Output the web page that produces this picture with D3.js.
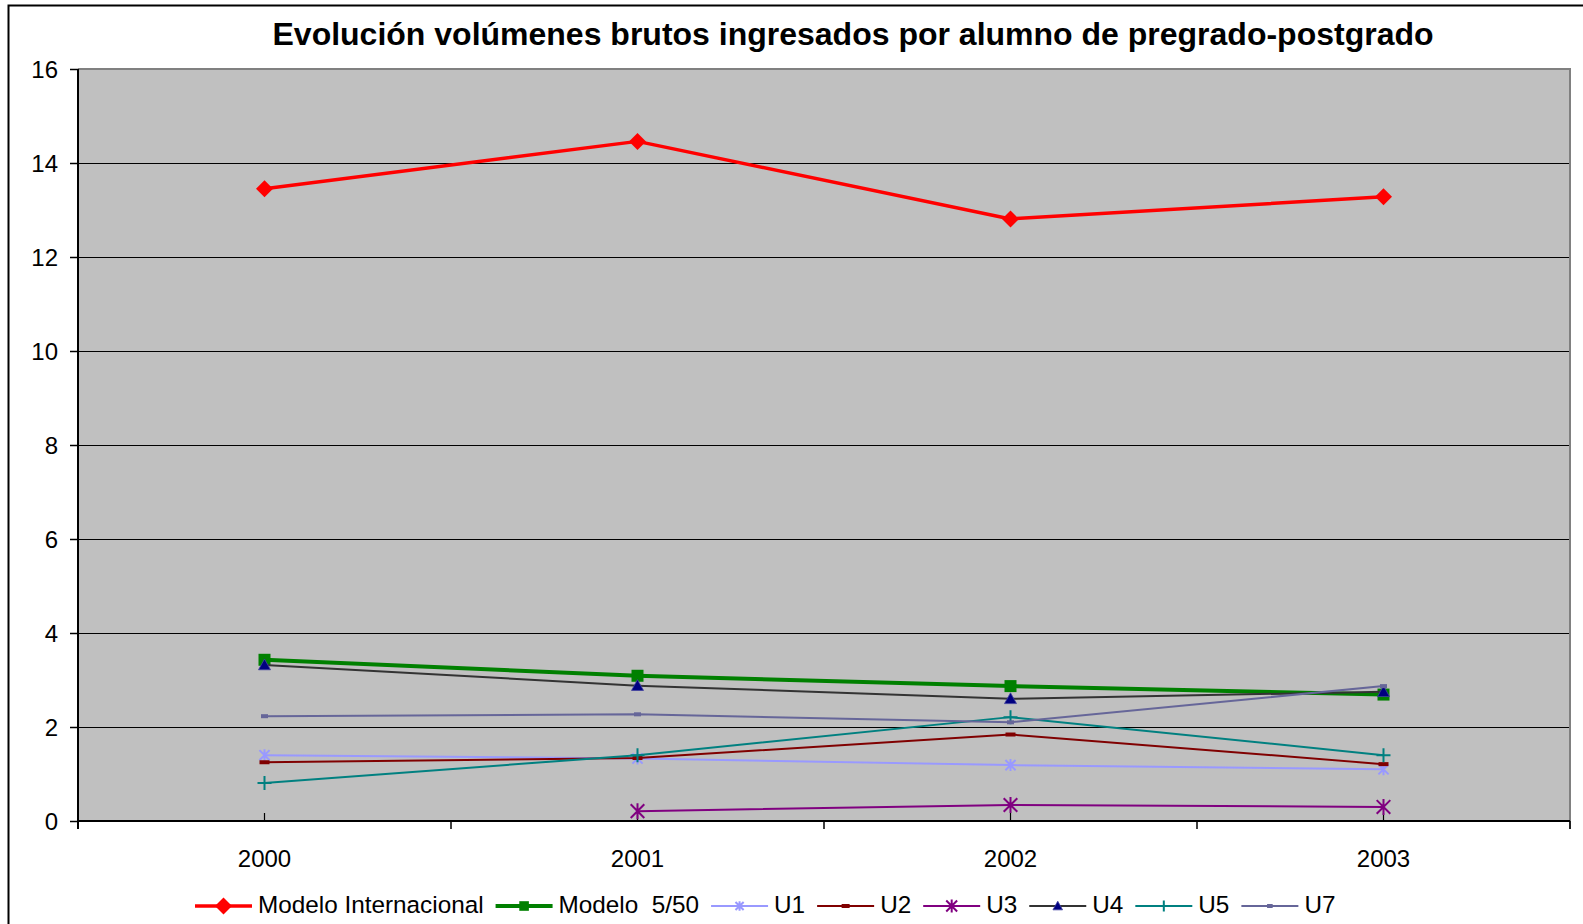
<!DOCTYPE html>
<html>
<head>
<meta charset="utf-8">
<script src="https://cdn.jsdelivr.net/npm/d3@7"></script>
<style>
  html, body { margin: 0; padding: 0; background: #ffffff; }
  svg { display: block; font-family: "Liberation Sans", Arial, sans-serif; }
</style>
</head>
<body>
<svg id="chart" width="1583" height="924"></svg>
<script>
// ---- data ----
const years = ["2000", "2001", "2002", "2003"];
const yTicks = [0, 2, 4, 6, 8, 10, 12, 14, 16];
const modeloInternacional = [13.45, 14.46, 12.81, 13.28];
const modelo550 = [3.43, 3.09, 2.87, 2.69];
const u1 = [1.40, 1.33, 1.19, 1.10];
const u2 = [1.25, 1.34, 1.84, 1.21];
const u3 = [null, 0.21, 0.34, 0.30];
const u4 = [3.32, 2.88, 2.60, 2.75];
const u5 = [0.81, 1.40, 2.21, 1.40];
const u7 = [2.23, 2.27, 2.10, 2.87];
const seriesNames = ["Modelo Internacional", "Modelo  5/50", "U1", "U2", "U3", "U4", "U5", "U7"];
const title = "Evolución volúmenes brutos ingresados por alumno de pregrado-postgrado";

// ---- styles ----
const styles = [
  { color: "#FF0000", width: 3.5, marker: "diamond", mfill: "#FF0000", msize: 8.5 },
  { color: "#008000", width: 4,   marker: "square",  mfill: "#008000", msize: 6 },
  { color: "#9999FF", width: 2,   marker: "star",    mfill: "#9999FF", msize: 6 },
  { color: "#800000", width: 2,   marker: "dash",    mfill: "#800000", msize: 5 },
  { color: "#800080", width: 2,   marker: "star",    mfill: "#800080", msize: 8 },
  { color: "#333333", width: 2,   marker: "triangle",mfill: "#000080", msize: 6 },
  { color: "#008080", width: 2,   marker: "plus",    mfill: "#008080", msize: 7 },
  { color: "#666699", width: 2,   marker: "dash",    mfill: "#666699", msize: 3.5 }
];
const seriesValues = [modeloInternacional, modelo550, u1, u2, u3, u4, u5, u7];
const series = seriesNames.map((n, i) => Object.assign({ name: n, values: seriesValues[i] }, styles[i]));

// ---- layout ----
const svg = d3.select("#chart");
const plot = { left: 78, right: 1570, top: 69, bottom: 821 };

// outer frame
svg.append("path")
  .attr("d", `M8.5,924 L8.5,5.5 L1583,5.5`)
  .attr("fill", "none").attr("stroke", "#000").attr("stroke-width", 2);

const x = d3.scaleBand().domain(years).range([plot.left, plot.right]);
const y = d3.scaleLinear().domain([0, 16]).range([plot.bottom, plot.top]);
const cx = d => x(d) + x.bandwidth() / 2;

// plot background
svg.append("rect")
  .attr("x", plot.left).attr("y", plot.top)
  .attr("width", plot.right - plot.left).attr("height", plot.bottom - plot.top)
  .attr("fill", "#C0C0C0");

// gridlines
svg.append("g").selectAll("line")
  .data(yTicks.filter(t => t > 0 && t < 16))
  .join("line")
  .attr("x1", plot.left).attr("x2", plot.right)
  .attr("y1", d => Math.round(y(d)) + 0.5).attr("y2", d => Math.round(y(d)) + 0.5)
  .attr("stroke", "#000").attr("stroke-width", 1.2);

// plot border top & right (gray)
svg.append("path")
  .attr("d", `M${plot.left},${plot.top} L${plot.right},${plot.top} L${plot.right},${plot.bottom + 8}`)
  .attr("fill", "none").attr("stroke", "#808080").attr("stroke-width", 2);

// y axis
const yAxis = svg.append("g")
  .attr("transform", `translate(${plot.left},0)`)
  .call(d3.axisLeft(y).tickValues(yTicks).tickSize(8).tickPadding(12).tickFormat(d3.format("d")));
yAxis.select(".domain").attr("d", `M0,${plot.top} V${plot.bottom + 8}`).attr("stroke", "#000").attr("stroke-width", 2);
yAxis.selectAll(".tick line").attr("stroke", "#000").attr("stroke-width", 1.5);
yAxis.selectAll(".tick text").attr("font-size", 24).attr("fill", "#000")
  .attr("font-family", "'Liberation Sans', Arial, sans-serif").attr("dy", "0.35em");

// x axis line
svg.append("line")
  .attr("x1", plot.left).attr("x2", plot.right)
  .attr("y1", plot.bottom).attr("y2", plot.bottom)
  .attr("stroke", "#000").attr("stroke-width", 2);
// major ticks between categories
const boundaries = years.map(d => x(d)).concat([plot.right]);
svg.append("g").selectAll("line").data(boundaries).join("line")
  .attr("x1", d => d).attr("x2", d => d)
  .attr("y1", plot.bottom).attr("y2", plot.bottom + 8)
  .attr("stroke", "#000").attr("stroke-width", 1.5);
// minor inner ticks at category centers
svg.append("g").selectAll("line").data(years).join("line")
  .attr("x1", d => cx(d)).attr("x2", d => cx(d))
  .attr("y1", plot.bottom - 8).attr("y2", plot.bottom)
  .attr("stroke", "#000").attr("stroke-width", 1.2);
// category labels
svg.append("g").selectAll("text").data(years).join("text")
  .attr("x", d => cx(d)).attr("y", 867)
  .attr("text-anchor", "middle").attr("font-size", 24).attr("fill", "#000")
  .text(d => d);

// title
svg.append("text")
  .attr("x", 853).attr("y", 45)
  .attr("text-anchor", "middle")
  .attr("font-size", 32).attr("font-weight", "bold").attr("fill", "#000")
  .text(title);

// ---- markers ----
function drawMarker(g, s, px, py, scale) {
  const m = s.msize * (scale || 1);
  if (s.marker === "diamond") {
    g.append("path").attr("d", `M${px},${py - m} L${px + m},${py} L${px},${py + m} L${px - m},${py} Z`)
      .attr("fill", s.mfill);
  } else if (s.marker === "square") {
    g.append("rect").attr("x", px - m).attr("y", py - m).attr("width", 2 * m).attr("height", 2 * m)
      .attr("fill", s.mfill);
  } else if (s.marker === "triangle") {
    g.append("path").attr("d", `M${px},${py - m} L${px + m},${py + m * 0.8} L${px - m},${py + m * 0.8} Z`)
      .attr("fill", s.mfill).attr("stroke", "#4040a0").attr("stroke-width", 0.8);
  } else if (s.marker === "dash") {
    g.append("rect").attr("x", px - m).attr("y", py - 2).attr("width", 2 * m).attr("height", 4)
      .attr("fill", s.mfill);
  } else if (s.marker === "plus") {
    g.append("path").attr("d", `M${px - m},${py} L${px + m},${py} M${px},${py - m} L${px},${py + m}`)
      .attr("stroke", s.mfill).attr("stroke-width", 2);
  } else if (s.marker === "star") {
    const d = m * 0.85;
    g.append("path").attr("d", `M${px - d},${py - d} L${px + d},${py + d} M${px + d},${py - d} L${px - d},${py + d} M${px},${py - m} L${px},${py + m}`)
      .attr("stroke", s.mfill).attr("stroke-width", 2);
  }
}

// ---- series ----
const line = d3.line()
  .defined(d => d.v !== null)
  .x(d => cx(d.year))
  .y(d => y(d.v));

const seriesG = svg.append("g");
series.forEach(s => {
  const pts = years.map((yr, i) => ({ year: yr, v: s.values[i] }));
  const g = seriesG.append("g");
  g.append("path").datum(pts)
    .attr("d", line)
    .attr("fill", "none").attr("stroke", s.color).attr("stroke-width", s.width)
    .attr("stroke-linejoin", "round");
  pts.filter(p => p.v !== null).forEach(p => drawMarker(g, s, cx(p.year), y(p.v)));
});

// ---- legend ----
const legend = svg.append("g");
let lx = 195;
const ly = 906;
series.forEach(s => {
  const g = legend.append("g");
  g.append("line").attr("x1", lx).attr("x2", lx + 57).attr("y1", ly).attr("y2", ly)
    .attr("stroke", s.color).attr("stroke-width", s.width);
  drawMarker(g, s, lx + 28.5, ly, s.marker === "diamond" ? 1 : 0.8);
  const t = g.append("text").attr("x", lx + 63).attr("y", 913)
    .attr("font-size", 24.3).attr("fill", "#000")
    .style("white-space", "pre")
    .text(s.name);
  lx += 63 + t.node().getComputedTextLength() + 12;
});
</script>
</body>
</html>
